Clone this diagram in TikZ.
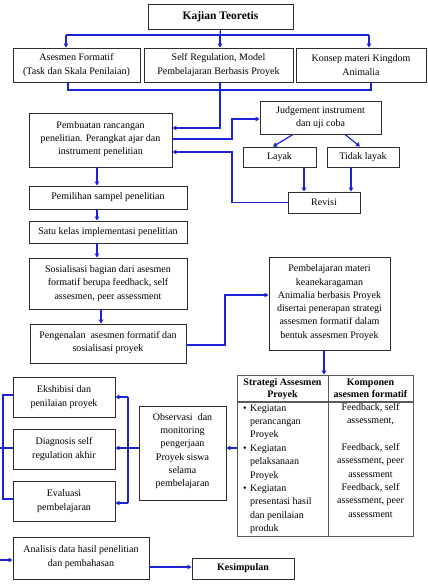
\documentclass[tikz,border=0pt]{standalone}
\usepackage{fontspec}
\setmainfont{Liberation Serif}
\usetikzlibrary{arrows.meta}
\definecolor{bl}{RGB}{28,34,214}
\definecolor{boxc}{RGB}{45,45,45}
\definecolor{tblc}{RGB}{90,90,90}
\newcommand\fs{\fontsize{10}{13.3}\selectfont}
\begin{document}
\begin{tikzpicture}[x=1pt,y=-1pt,
  box/.style={draw=boxc, line width=0.9pt, align=center, inner sep=1pt, font=\fs},
  tx/.style={inner sep=0pt, font=\fs},
  ln/.style={draw=bl, line width=1.2pt},
  arr/.style={ln, -{Triangle[length=4pt,width=4.5pt]}}]
\useasboundingbox[fill=white] (0,0) rectangle (428,584);

% boxes
\node[box, minimum width=145pt, minimum height=25pt, font=\fontsize{11.5}{13}\selectfont\bfseries] (kajian) at (220.5,16.5) {Kajian Teoretis};
\node[box, minimum width=127pt, minimum height=34pt] (ase) at (76.5,65) {Asesmen Formatif\\(Task dan Skala Penilaian)};
\node[box, minimum width=149pt, minimum height=34pt] (self) at (218.5,65) {Self Regulation, Model\\Pembelajaran Berbasis Proyek};
\node[box, minimum width=130pt, minimum height=34pt] (kon) at (361,65) {Konsep materi Kingdom\\Animalia};
\node[box, minimum width=143pt, minimum height=54pt, text depth=4pt] (pemb) at (100.5,140) {Pembuatan rancangan\\penelitian. Perangkat ajar dan\\instrument penelitian};
\node[box, minimum width=121pt, minimum height=33pt] (judg) at (320.5,117.5) {Judgement instrument\\dan uji coba};
\node[box, minimum width=73pt, minimum height=20pt] (layak) at (279.5,157) {Layak};
\node[box, minimum width=72pt, minimum height=20pt] (tidak) at (363,157) {Tidak layak};
\node[box, minimum width=72pt, minimum height=21pt] (revisi) at (324,202.5) {Revisi};
\node[box, minimum width=158pt, minimum height=23pt] (pemil) at (108,197.5) {Pemilihan sampel penelitian};
\node[box, minimum width=158pt, minimum height=22pt] (satu) at (108,232) {Satu kelas implementasi penelitian};
\node[box, minimum width=158pt, minimum height=51pt] (sos) at (108,283.5) {Sosialisasi bagian dari asesmen\\formatif berupa feedback, self\\assesmen, peer assessment};
\node[box, minimum width=156pt, minimum height=39pt, text depth=4pt] (peng) at (108,343.5) {Pengenalan\ \ asesmen formatif dan\\sosialisasi proyek};
\node[box, minimum width=121pt, minimum height=93pt, text depth=4pt] (pbl) at (329.5,303.5) {Pembelajaran materi\\keanekaragaman\\Animalia berbasis Proyek\\disertai penerapan strategi\\assesmen formatif dalam\\bentuk assesmen Proyek};
\node[box, minimum width=87pt, minimum height=94pt, text depth=6pt] (obs) at (182.5,453) {Observasi\ \ dan\\monitoring\\pengerjaan\\Proyek siswa\\selama\\pembelajaran};
\node[box, minimum width=102pt, minimum height=40pt] (eks) at (64,397) {Ekshibisi dan\\penilaian proyek};
\node[box, minimum width=102pt, minimum height=40pt] (diag) at (64,449) {Diagnosis self\\regulation akhir};
\node[box, minimum width=102pt, minimum height=40pt] (eval) at (64,501) {Evaluasi\\pembelajaran};
\node[box, minimum width=136pt, minimum height=42pt, text depth=4pt] (anal) at (81,558) {Analisis data hasil penelitian\\dan pembahasan};
\node[box, minimum width=102pt, minimum height=21pt, font=\fs\bfseries] (kes) at (243,568.5) {Kesimpulan};

% table
\node[draw=tblc, line width=0.8pt, minimum width=176pt, minimum height=161pt, inner sep=0pt] (tbl) at (325,455.5) {};
\coordinate (th1) at (237,402); \coordinate (th2) at (413,402);
\coordinate (tc1) at (328,375); \coordinate (tc2) at (328,536);
\draw[draw=tblc, line width=1.2pt] (th1) -- (th2);
\draw[draw=tblc, line width=0.8pt] (tc1) -- (tc2);
\node[tx, anchor=base, font=\fs\bfseries] (h1) at (282.5,385) {Strategi Assesmen};
\node[tx, anchor=base, font=\fs\bfseries] (h2) at (282.5,397) {Proyek};
\node[tx, anchor=base, font=\fs\bfseries] (h3) at (370.5,385) {Komponen};
\node[tx, anchor=base, font=\fs\bfseries] (h4) at (370.5,397) {asesmen formatif};
\node[tx, anchor=base west] (b1) at (243,411) {\textbullet};
\node[tx, anchor=base west] (b2) at (243,451.2) {\textbullet};
\node[tx, anchor=base west] (b3) at (243,491.4) {\textbullet};
\foreach \y/\t [count=\i] in {411/Kegiatan, 424.4/perancangan, 437.8/Proyek, 451.2/Kegiatan, 464.6/pelaksanaan, 478/Proyek, 491.4/Kegiatan, 504.8/presentasi hasil, 518.2/dan penilaian, 531.6/produk}
  \node[tx, anchor=base west] (tl\i) at (250,\y) {\t};
\foreach \y/\t [count=\i] in {410/{Feedback, self}, 423.5/{assessment,}, 450/{Feedback, self}, 463.5/{assessment, peer}, 477/assessment, 490/{Feedback, self}, 503.5/{assessment, peer}, 517/assessment}
  \node[tx, anchor=base] (tr\i) at (370.5,\y) {\t};

% connectors top
\coordinate (k1) at (220,35); \coordinate (kA) at (66,35); \coordinate (kC) at (369,35);
\draw[ln] (kajian.south) -- (k1);
\draw[ln] (kA) -- (kC);
\draw[arr] (kA) -- (kA |- ase.north);
\draw[arr] (k1) -- (k1 |- self.north);
\draw[arr] (kC) -- (kC |- kon.north);

\coordinate (bA) at (68,90); \coordinate (bB) at (220,90); \coordinate (bC) at (371,90); \coordinate (bD) at (220,128);
\draw[ln] (bA |- ase.south) -- (bA) -- (bC) -- (bC |- kon.south);
\draw[ln] (bB |- self.south) -- (bB);
\draw[arr] (bB) -- (bD) -- (bD -| pemb.east);

\coordinate (j1) at (232,139); \coordinate (j2) at (232,119);
\draw[arr] (j1 -| pemb.east) -- (j1) -- (j2) -- (j2 -| judg.west);
\draw[arr] ([xshift=-27.5pt]judg.south) -- ([xshift=-6.5pt]layak.north);
\draw[arr] ([xshift=24.5pt]judg.south) -- ([xshift=-3pt]tidak.north);
\draw[arr] ([xshift=24.5pt]layak.south) -- ([xshift=24.5pt]layak.south |- revisi.north);
\draw[arr] ([xshift=-12pt]tidak.south) -- ([xshift=-12pt]tidak.south |- revisi.north);
\coordinate (r1) at (232,202.5); \coordinate (r2) at (232,152);
\draw[arr] (revisi.west) -- (r1) -- (r2) -- (r2 -| pemb.east);

% left chain
\draw[arr] ([xshift=-3.5pt]pemb.south) -- ([xshift=-3.5pt]pemb.south |- pemil.north);
\draw[arr] ([xshift=-11pt]pemil.south) -- ([xshift=-11pt]pemil.south |- satu.north);
\draw[arr] ([xshift=-11pt]satu.south) -- ([xshift=-11pt]satu.south |- sos.north);
\draw[arr] ([xshift=-7pt]sos.south) -- ([xshift=-7pt]sos.south |- peng.north);

\coordinate (p1) at (225,345); \coordinate (p2) at (225,295);
\draw[arr] (p1 -| peng.east) -- (p1) -- (p2) -- (p2 -| pbl.west);
\draw[arr] ([xshift=-5.5pt]pbl.south) -- ([xshift=-5.5pt]pbl.south |- tbl.north);

% lower part
\coordinate (t1) at (237,448);
\draw[arr] (t1) -- (t1 -| obs.east);
\coordinate (o1) at (128,448); \coordinate (o2) at (128,397); \coordinate (o3) at (128,503);
\draw[ln] (o1 -| obs.west) -- (o1);
\draw[ln] (o2) -- (o3);
\draw[arr] (o2) -- (o2 -| eks.east);
\draw[arr] (o1) -- (o1 -| diag.east);
\draw[arr] (o3) -- (o3 -| eval.east);

\coordinate (l1) at (3,395); \coordinate (l2) at (3,499); \coordinate (l3) at (0,448); \coordinate (l4) at (0,560);
\draw[ln] (l1 -| eks.west) -- (l1) -- (l2) -- (l2 -| eval.west);
\draw[ln] (l3 -| diag.west) -- (l3);
\draw[arr] (l4) -- (l4 -| anal.west);
\coordinate (a1) at (149,567);
\draw[arr] (a1 -| anal.east) -- (a1 -| kes.west);
\end{tikzpicture}
\end{document}
